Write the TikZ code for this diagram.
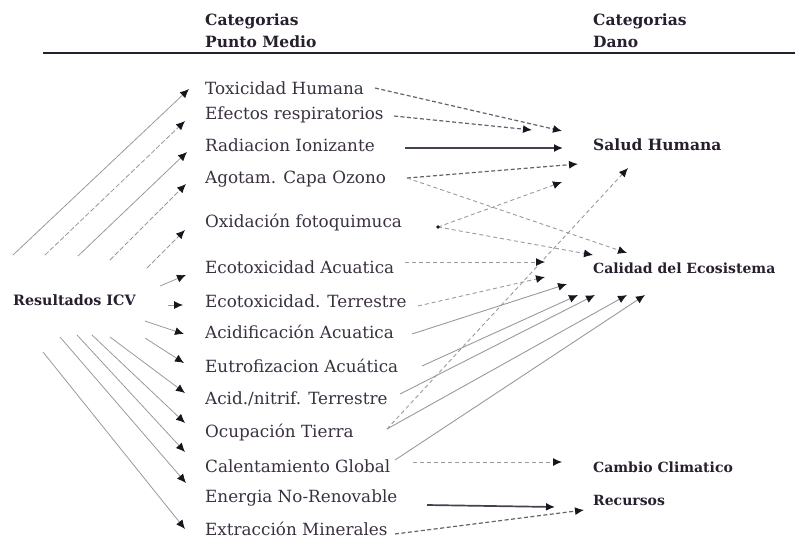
\documentclass[tikz,border=0pt]{standalone}
\usepackage{fontspec}
\setmainfont{DejaVu Serif}
\usetikzlibrary{arrows.meta}
\definecolor{ink}{RGB}{58,48,64}
\definecolor{inkdark}{RGB}{40,31,46}
\definecolor{tipcol}{RGB}{26,20,30}
\definecolor{wire}{RGB}{155,152,158}
\definecolor{wiremid}{RGB}{105,95,110}
\definecolor{wiredark}{RGB}{72,62,80}
\begin{document}
\begin{tikzpicture}[x=1pt,y=-1pt,
  mid/.style={anchor=west,inner sep=0pt,text=ink,font=\fontsize{16.8}{18}\selectfont},
  dmg/.style={anchor=west,inner sep=0pt,text=inkdark,font=\fontsize{14}{16}\selectfont\bfseries},
  head/.style={anchor=west,inner sep=0pt,align=left,text=inkdark,font=\fontsize{15.5}{22}\selectfont\bfseries},
  tipstyle/.style={-{Latex[length=9pt,width=8pt,color=tipcol]}},
  feed/.style={tipstyle,draw=wire,line width=0.8pt},
  feeddash/.style={feed,dash pattern=on 5pt off 2pt},
  strong/.style={tipstyle,draw=wiredark,line width=1.7pt},
  medash/.style={tipstyle,draw=wiremid,line width=1.2pt,dash pattern=on 4pt off 2.5pt},
  light/.style={tipstyle,draw=wire,line width=0.9pt},
  lightdash/.style={light,dash pattern=on 4pt off 3pt}]

\useasboundingbox (0,0) rectangle (795,539);

% column headings and rule
\node[head] (hmid) at (205,31) {Categorias\\Punto Medio};
\node[head] (hdmg) at (593,31) {Categorias\\Dano};
\draw[line width=1.8pt,inkdark] (43,53) -- (795,53);

% source
\node[dmg,font=\fontsize{14.3}{16}\selectfont\bfseries] (icv) at (13,300) {Resultados ICV};

% midpoint categories
\node[mid] (tox) at (205,88)  {Toxicidad Humana};
\node[mid] (efe) at (205,115) {Efectos respiratorios};
\node[mid] (rad) at (205,145) {Radiacion Ionizante};
\node[mid] (ago) at (205,179) {Agotam. Capa Ozono};
\node[mid] (oxi) at (205,223) {Oxidación fotoquimuca};
\node[mid] (eca) at (205,267) {Ecotoxicidad Acuatica};
\node[mid] (ect) at (205,301) {Ecotoxicidad. Terrestre};
\node[mid] (aca) at (205,332) {Acidificación Acuatica};
\node[mid] (eut) at (205,366) {Eutrofizacion Acuática};
\node[mid] (acn) at (205,399) {Acid./nitrif. Terrestre};
\node[mid] (ocu) at (205,433) {Ocupación Tierra};
\node[mid] (cal) at (205,466) {Calentamiento Global};
\node[mid] (ene) at (205,498) {Energia No-Renovable};
\node[mid] (ext) at (205,529) {Extracción Minerales};

% damage categories
\node[dmg,font=\fontsize{15.5}{18}\selectfont\bfseries] (salud) at (593,145) {Salud Humana};
\node[dmg] (calidad) at (593,268) {Calidad del Ecosistema};
\node[dmg] (cambio) at (593,467) {Cambio Climatico};
\node[dmg] (recursos) at (593,500) {Recursos};

% free ends of the inventory arrows, spread round the source label
\coordinate (s-tox) at (13,255);
\coordinate (s-efe) at (45,255);
\coordinate (s-rad) at (78,256);
\coordinate (s-ago) at (110,260);
\coordinate (s-oxi) at (147,268);
\coordinate (s-eca) at (160,286);
\coordinate (s-ect) at (168,305);
\coordinate (s-aca) at (145,321);
\coordinate (s-eut) at (145,338);
\coordinate (s-acn) at (110,337);
\coordinate (s-ocu) at (92,335);
\coordinate (s-cal) at (77,335);
\coordinate (s-ene) at (60,337);
\coordinate (s-ext) at (43,352);

\draw[feed]     (s-tox) -- ([shift={(-16,1)}]tox.west);
\draw[feeddash] (s-efe) -- ([shift={(-20,6)}]efe.west);
\draw[feed]     (s-rad) -- ([shift={(-18,7)}]rad.west);
\draw[feeddash] (s-ago) -- ([shift={(-19,5)}]ago.west);
\draw[feeddash] (s-oxi) -- ([shift={(-20,7)}]oxi.west);
\draw[feed]     (s-eca) -- ([shift={(-19,8)}]eca.west);
\draw[feed]     (s-ect) -- ([shift={(-22,4)}]ect.west);
\draw[feed]     (s-aca) -- ([shift={(-21,2)}]aca.west);
\draw[feed]     (s-eut) -- ([shift={(-21,-3)}]eut.west);
\draw[feed]     (s-acn) -- ([shift={(-20,-6)}]acn.west);
\draw[feed]     (s-ocu) -- ([shift={(-20,-10)}]ocu.west);
\draw[feed]     (s-cal) -- ([shift={(-20,-14)}]cal.west);
\draw[feed]     (s-ene) -- ([shift={(-19,-15)}]ene.west);
\draw[feed]     (s-ext) -- ([shift={(-20,0)}]ext.west);

% free ends of the characterisation arrows
\coordinate (o-tox) at (375,88);
\coordinate (o-efe) at (394,116);
\coordinate (o-rad) at (405,148);
\coordinate (o-ago) at (407,178);
\coordinate (o-oxi) at (438,227);
\coordinate (o-eca) at (405,262);
\coordinate (o-ect) at (418,306);
\coordinate (o-aca) at (412,334);
\coordinate (o-eut) at (422,366);
\coordinate (o-acn) at (400,394);
\coordinate (o-ocu) at (387,429);
\coordinate (o-cal) at (395,460);
\coordinate (o-cc)  at (413,462);
\coordinate (o-ene) at (427,505);
\coordinate (o-ext) at (395,534);

% to human health
\draw[medash] (o-tox) -- ([shift={(-31,-14)}]salud.west);
\draw[medash] (o-efe) -- ([shift={(-61,-15)}]salud.west);
\draw[strong] (o-rad) -- ([shift={(-30,3)}]salud.west);
\draw[medash] (o-ago) -- ([shift={(-15,19)}]salud.west);
\draw[lightdash] (o-oxi) -- ([shift={(-31,37)}]salud.west);
\draw[lightdash] (o-ocu) -- ([shift={(35,23)}]salud.west);

% to ecosystem quality
\draw[lightdash] (o-ago) -- ([shift={(34,-15)}]calidad.west);
\draw[lightdash] (o-oxi) -- ([shift={(0,-13)}]calidad.west);
\draw[lightdash] (o-eca) -- ([shift={(-48,-6)}]calidad.west);
\draw[lightdash] (o-ect) -- ([shift={(-48,9)}]calidad.west);
\draw[light] (o-aca) -- ([shift={(-26,16)}]calidad.west);
\draw[light] (o-eut) -- ([shift={(-15,27)}]calidad.west);
\draw[light] (o-acn) -- ([shift={(2,27)}]calidad.west);
\draw[light] (o-ocu) -- ([shift={(34,27)}]calidad.west);
\draw[light] (o-cal) -- ([shift={(52,27)}]calidad.west);
\fill[tipcol] (o-oxi) circle (1.8);

% to climate change and resources
\draw[lightdash] (o-cc) -- ([shift={(-31,-5)}]cambio.west);
\draw[strong] (o-ene) -- ([shift={(-38,7)}]recursos.west);
\draw[medash] (o-ext) -- ([shift={(-9,10)}]recursos.west);
\end{tikzpicture}
\end{document}
